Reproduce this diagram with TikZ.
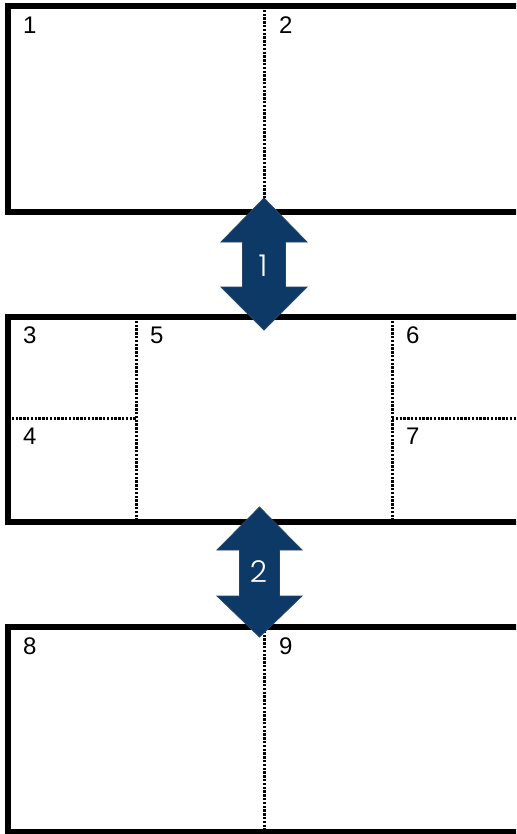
\documentclass[tikz,border=0pt]{standalone}
\usepackage{fontspec}
\setmainfont{Liberation Sans}
\newfontfamily\arrowfont{Poppins Light}
\usetikzlibrary{calc}

\definecolor{navy}{RGB}{12,57,102}
\definecolor{navyedge}{RGB}{40,70,100}

\tikzset{
  frame/.style={line width=5.5pt, line cap=rect},
  divider/.style={line width=3pt, dash pattern=on 2.4pt off 1.4pt},
  cellnum/.style={anchor=north west, inner sep=0pt, font=\fontsize{24}{24}\selectfont},
  swaparrow/.style={fill=navy, draw=navyedge, line width=0.8pt, line join=miter},
  swapnum/.style={text=white, inner sep=0pt, font=\arrowfont\fontsize{30}{30}\selectfont}
}

\begin{document}
\begin{tikzpicture}[x=1pt, y=-1pt]

% Fix the page size and cut the boxes at the right edge
\useasboundingbox (0,0) rectangle (516,834);
\clip (0,0) rectangle (516,834);

% Top box: cells 1 and 2
\coordinate (TL) at (8,6);
\coordinate (BL) at (8,212);
\draw[divider] (264,6) -- (264,212);
\draw[frame] (530,6) -- (TL) -- (BL) -- (530,212);
\node[cellnum] (n1) at (23,17) {1};
\node[cellnum] (n2) at (279,17) {2};

% Middle box: cells 3 to 7
\coordinate (MTL) at (8,317);
\coordinate (MBL) at (8,522);
\draw[divider] (136,317) -- (136,522);
\draw[divider] (392,317) -- (392,522);
\draw[divider] (8,418) -- (136,418);
\draw[divider] (392,418) -- (530,418);
\draw[frame] (530,317) -- (MTL) -- (MBL) -- (530,522);
\node[cellnum] (n3) at (23,327) {3};
\node[cellnum] (n5) at (150,327) {5};
\node[cellnum] (n6) at (406,327) {6};
\node[cellnum] (n4) at (23,428) {4};
\node[cellnum] (n7) at (406,428) {7};

% Bottom box: cells 8 and 9
\coordinate (LTL) at (8,627);
\coordinate (LBL) at (8,832);
\draw[divider] (264,627) -- (264,832);
\draw[frame] (530,627) -- (LTL) -- (LBL) -- (530,832);
\node[cellnum] (n8) at (23,638) {8};
\node[cellnum] (n9) at (279,638) {9};

% Swap arrow 1 (top box <-> middle box)
\coordinate (S1) at (264,264);
\draw[swaparrow] ($(S1)+(0,-66)$) -- ($(S1)+(43,-22)$) -- ($(S1)+(21.5,-22)$)
  -- ($(S1)+(21.5,23)$) -- ($(S1)+(43,23)$) -- ($(S1)+(0,66)$)
  -- ($(S1)+(-43,23)$) -- ($(S1)+(-21.5,23)$) -- ($(S1)+(-21.5,-22)$)
  -- ($(S1)+(-43,-22)$) -- cycle;
\node[swapnum] (a1) at ($(S1)+(-1,2)$) {1};

% Swap arrow 2 (middle box <-> bottom box)
\coordinate (S2) at (259.5,572);
\draw[swaparrow] ($(S2)+(0,-65)$) -- ($(S2)+(42.5,-22)$) -- ($(S2)+(20,-22)$)
  -- ($(S2)+(20,24)$) -- ($(S2)+(42.5,24)$) -- ($(S2)+(0,65)$)
  -- ($(S2)+(-42.5,24)$) -- ($(S2)+(-20,24)$) -- ($(S2)+(-20,-22)$)
  -- ($(S2)+(-42.5,-22)$) -- cycle;
\node[swapnum] (a2) at ($(S2)+(-1,0)$) {2};

\end{tikzpicture}
\end{document}
